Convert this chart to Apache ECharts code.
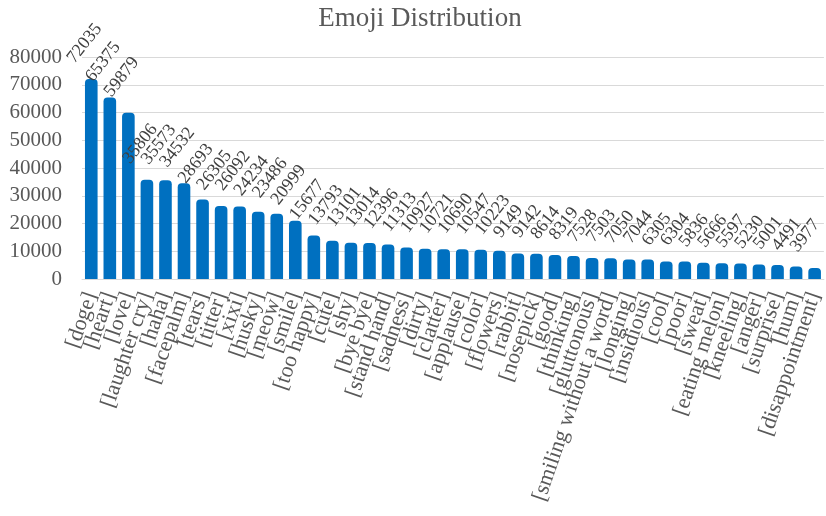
<!DOCTYPE html>
<html>
<head>
<meta charset="utf-8">
<script src="https://cdn.jsdelivr.net/npm/echarts@6/dist/echarts.min.js"></script>
<style>
  html, body { margin: 0; padding: 0; background: #fff; }
  #chart { width: 826px; height: 516px; }
</style>
</head>
<body>
<div id="chart"></div>
<script>
var categories = [
  '[doge]', '[heart]', '[love]', '[laughter cry]', '[haha]', '[facepalm]', '[tears]', '[titter]',
  '[xixi]', '[husky]', '[meow]', '[smile]', '[too happy]', '[cute]', '[shy]', '[bye bye]',
  '[stand hand]', '[sadness]', '[dirty]', '[clatter]', '[applause]', '[color]', '[flowers]', '[rabbit]',
  '[nosepick]', '[good]', '[thinking]', '[gluttonous]', '[smiling without a word]', '[longing]', '[insidious]', '[cool]',
  '[poor]', '[sweat]', '[eating melon]', '[kneeling]', '[anger]', '[surprise]', '[hum]', '[disappointment]'
]
var counts = [
  72035, 65375, 59879, 35806, 35573, 34532, 28693, 26305,
  26092, 24234, 23486, 20999, 15677, 13793, 13101, 13014,
  12396, 11313, 10927, 10721, 10690, 10547, 10223, 9149,
  9142, 8614, 8319, 7528, 7503, 7050, 7044, 6305,
  6304, 5836, 5666, 5597, 5230, 5001, 4491, 3977
]
var yTicks = [0, 10000, 20000, 30000, 40000, 50000, 60000, 70000, 80000]

var font = '"Liberation Serif", "Times New Roman", serif'
var myChart = echarts.init(document.getElementById('chart'))

var option = {
  backgroundColor: '#ffffff',
  animation: false,
  title: {
    text: 'Emoji Distribution',
    left: 415,
    textAlign: 'center',
    top: 0,
    textStyle: {
      fontFamily: font,
      fontWeight: 'normal',
      fontSize: 27,
      color: '#595959'
    }
  },
  grid: {
    left: 82,
    right: 2,
    top: 57,
    bottom: 237
  },
  xAxis: {
    type: 'category',
    data: categories,
    axisLine: { lineStyle: { color: '#d9d9d9', width: 1 } },
    axisTick: { show: false },
    axisLabel: {
      interval: 0,
      rotate: 71,
      margin: 14,
      fontFamily: font,
      fontSize: 22,
      color: '#595959'
    }
  },
  yAxis: {
    type: 'value',
    min: yTicks[0],
    max: yTicks[yTicks.length - 1],
    interval: yTicks[1] - yTicks[0],
    axisLine: { show: false },
    axisTick: { show: false },
    splitLine: { lineStyle: { color: '#d9d9d9', width: 1 } },
    axisLabel: {
      margin: 20,
      fontFamily: font,
      fontSize: 21,
      color: '#595959',
      formatter: function (v) { return String(v) }
    }
  },
  series: [{
    type: 'bar',
    data: counts,
    barCategoryGap: '32%',
    itemStyle: {
      color: '#0070c0',
      borderRadius: [4, 4, 0, 0]
    },
    label: {
      show: true,
      position: 'top',
      distance: 2,
      rotate: 52,
      align: 'left',
      verticalAlign: 'middle',
      offset: [0, -26],
      fontFamily: font,
      fontSize: 18,
      color: '#404040'
    }
  }]
}
myChart.setOption(option, true)
</script>
</body>
</html>
